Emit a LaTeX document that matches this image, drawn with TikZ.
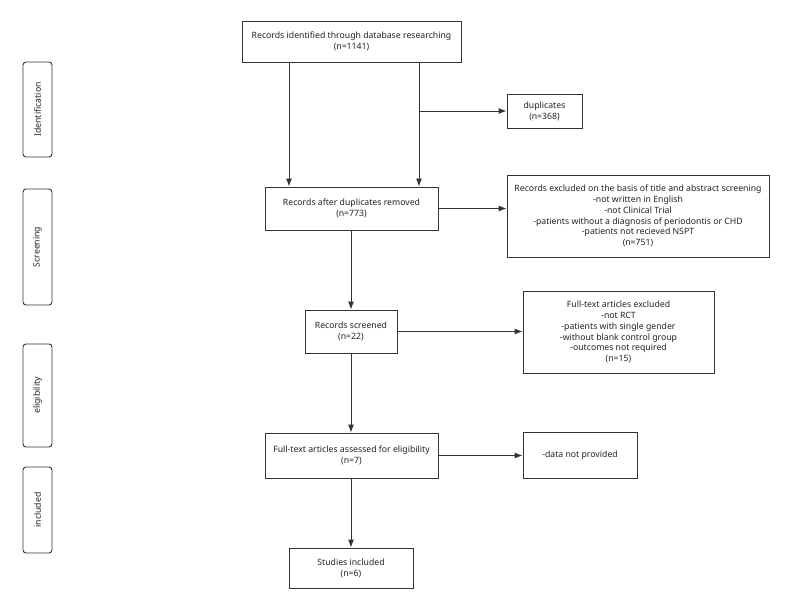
\documentclass[tikz,border=0pt]{standalone}
\usepackage{fontspec}
\setmainfont{Noto Sans}
\usetikzlibrary{arrows.meta,calc}
\definecolor{ln}{HTML}{333333}
\definecolor{tx}{HTML}{222222}
\begin{document}
\begin{tikzpicture}[x=1pt,y=-1pt,
  every node/.style={font=\fontsize{8.7}{10.8}\selectfont,text=tx},
  box/.style={draw=ln,line width=0.9pt,align=center,inner sep=0pt,anchor=center},
  side/.style={draw=ln,line width=0.9pt,rounded corners=3pt,inner sep=0pt,anchor=center},
  arr/.style={draw=ln,line width=0.9pt,-{Latex[length=8pt,width=6pt]}}]
\useasboundingbox (0,0) rectangle (787,612);
% main boxes
\node[box,minimum width=219pt,minimum height=41pt] (top) at (351.5,41.5) {Records identified through database researching\\(n=1141)};
\node[box,minimum width=75pt,minimum height=34pt] (dup) at (544.5,111) {duplicates\\(n=368)};
\node[box,minimum width=173pt,minimum height=43pt] (b2) at (351.5,208.5) {Records after duplicates removed\\(n=773)};
\node[box,minimum width=262pt,minimum height=82pt] (ex1) at (638,216) {Records excluded on the basis of title and abstract screening\\-not written in English\\-not Clinical Trial\\-patients without a diagnosis of periodontis or CHD\\-patients not recieved NSPT\\(n=751)};
\node[box,minimum width=92pt,minimum height=43pt] (scr) at (351,331.5) {Records screened\\(n=22)};
\node[box,minimum width=191pt,minimum height=82pt] (ex2) at (618.5,332) {Full-text articles excluded\\-not RCT\\-patients with single gender\\-without blank control group\\-outcomes not required\\(n=15)};
\node[box,minimum width=173pt,minimum height=45pt] (ass) at (351.5,455.5) {Full-text articles assessed for eligibility\\(n=7)};
\node[box,minimum width=114pt,minimum height=46pt] (nd) at (580,455) {-data not provided};
\node[box,minimum width=124pt,minimum height=40pt] (inc) at (351,568) {Studies included\\(n=6)};
% side labels
\node[side,minimum width=29pt,minimum height=95pt] (s1) at (37.5,109.5) {};
\node[rotate=90] (t1) at (s1.center) {Identification};
\node[side,minimum width=29pt,minimum height=116pt] (s2) at (37.5,247) {};
\node[rotate=90] (t2) at (s2.center) {Screening};
\node[side,minimum width=29pt,minimum height=103pt] (s3) at (37.5,395.5) {};
\node[rotate=90] (t3) at (s3.center) {eligibility};
\node[side,minimum width=29pt,minimum height=86pt] (s4) at (37.5,510) {};
\node[rotate=90] (t4) at (s4.center) {included};
% connectors
\coordinate (xl) at (289,0);
\coordinate (xr) at (419,0);
\coordinate (br) at (419,111);
\draw[arr] (top.south -| xl) -- (b2.north -| xl);
\draw[arr] (top.south -| xr) -- (b2.north -| xr);
\draw[arr] (br) -- (dup.west);
\draw[arr] (b2.east) -- (b2.east -| ex1.west);
\draw[arr] (b2.south -| scr.north) -- (scr.north);
\draw[arr] (scr.east) -- (scr.east -| ex2.west);
\draw[arr] (scr.south) -- (ass.north -| scr.south);
\draw[arr] (ass.east) -- (ass.east -| nd.west);
\draw[arr] (ass.south -| inc.north) -- (inc.north);
\end{tikzpicture}
\end{document}
